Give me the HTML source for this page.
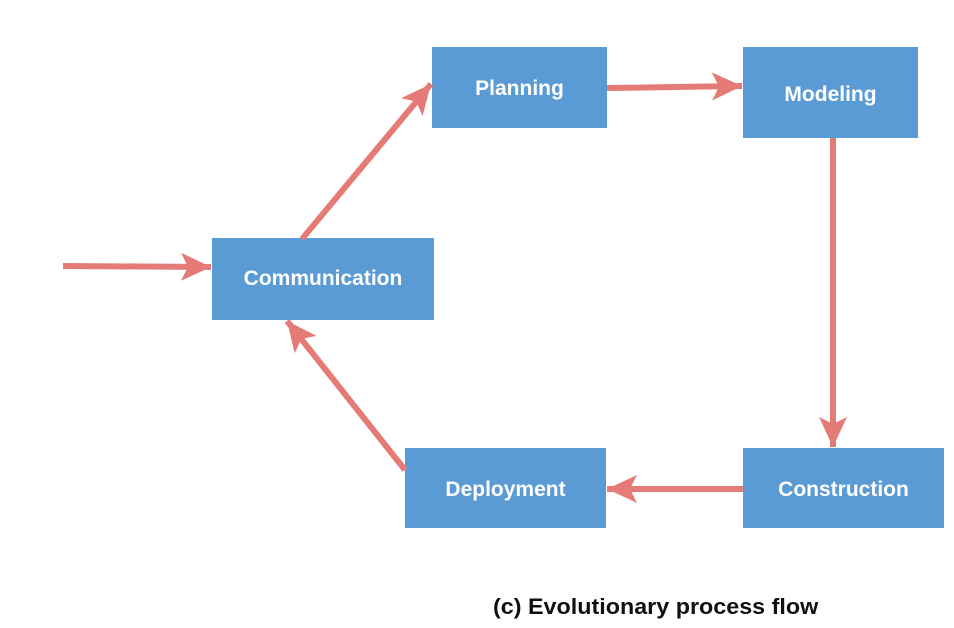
<!DOCTYPE html>
<html><head><style>
body{margin:0;width:954px;height:628px;background:#fff;overflow:hidden;position:relative;font-family:"Liberation Sans",sans-serif}
.b{position:absolute;background:#5b9bd5;color:#fff;font-weight:bold;font-size:21px;display:flex;align-items:center;justify-content:center;box-sizing:border-box}
svg{position:absolute;left:0;top:0}
.cap{position:absolute;left:493px;top:594px;font-weight:bold;font-size:22px;color:#111;transform:scaleX(1.06);transform-origin:0 0;white-space:nowrap}
</style></head><body>
<div class="b" style="left:432px;top:47px;width:175px;height:81px;padding-top:2px">Planning</div>
<div class="b" style="left:743px;top:47px;width:175px;height:91px;padding-top:4px">Modeling</div>
<div class="b" style="left:212px;top:238px;width:222px;height:82px">Communication</div>
<div class="b" style="left:405px;top:448px;width:201px;height:80px;padding-top:3px">Deployment</div>
<div class="b" style="left:743px;top:448px;width:201px;height:80px;padding-top:3px">Construction</div>
<svg width="954" height="628">
<defs><marker id="a" markerUnits="userSpaceOnUse" markerWidth="32" markerHeight="30" refX="30" refY="15" orient="auto">
<path d="M0,1 L30,15 L0,29 L7,15 Z" fill="#e57b76"/></marker></defs>
<g stroke="#e57b76" stroke-width="6" fill="none" marker-end="url(#a)">
<line x1="63" y1="266" x2="211" y2="267"/>
<line x1="302" y1="239" x2="431" y2="84"/>
<line x1="607" y1="88" x2="742" y2="86"/>
<line x1="833" y1="138" x2="833" y2="447"/>
<line x1="743" y1="489" x2="607" y2="489"/>
<line x1="405" y1="470" x2="287" y2="321"/>
</g>
</svg>
<div class="cap">(c) Evolutionary process flow</div>
</body></html>
